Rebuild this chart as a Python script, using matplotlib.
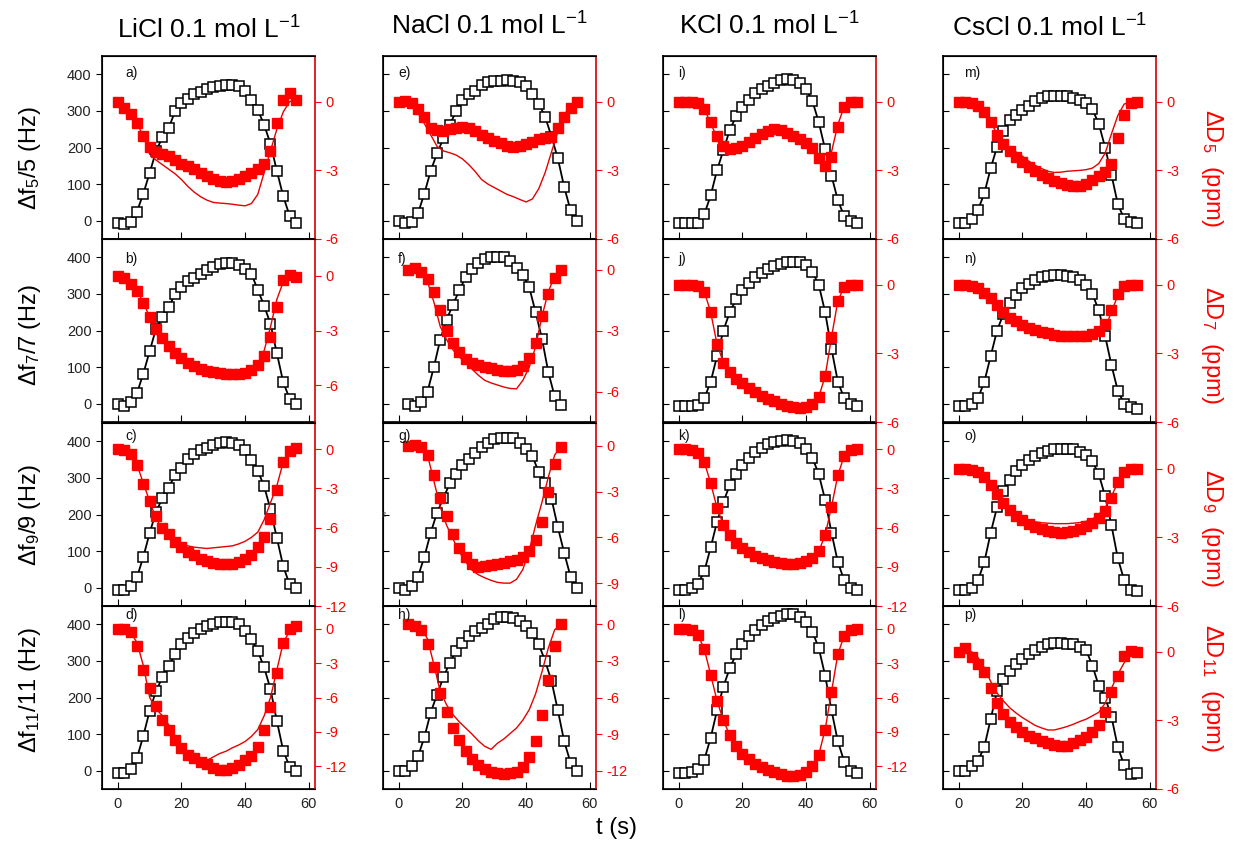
import matplotlib.pyplot as plt

plt.rcParams['font.family'] = ['Liberation Sans', 'DejaVu Sans']
plt.rcParams['mathtext.fontset'] = 'custom'
plt.rcParams['mathtext.rm'] = 'Liberation Sans'
plt.rcParams['mathtext.it'] = 'Liberation Sans'
plt.rcParams['axes.unicode_minus'] = False

# sampling times (s)
t_full = [0, 2, 4, 6, 8, 10, 12, 14, 16, 18, 20, 22, 24, 26, 28,
          30, 32, 34, 36, 38, 40, 42, 44, 46, 48, 50, 52, 54, 56]
t_short = [3, 5, 7, 9, 11, 13, 15, 17, 19, 21, 23, 25, 27,
           29, 31, 33, 35, 37, 39, 41, 43, 45, 47, 49, 51]

salts = ['LiCl', 'NaCl', 'KCl', 'CsCl']
overtones = [5, 7, 9, 11]

# LiCl -- frequency (Hz), dissipation points and fit (ppm)
df_a = [-6, -9, -3, 25, 74, 131, 190, 228, 253, 300, 322, 333, 345, 352, 359,
        365, 368, 370, 370, 368, 354, 331, 303, 262, 210, 136, 67, 14, -5]
dd_a = [0, -0.28, -0.52, -0.93, -1.48, -1.97, -2.2, -2.3, -2.38, -2.55, -2.7,
        -2.81, -2.96, -3.1, -3.25, -3.36, -3.46, -3.51, -3.46, -3.36, -3.25,
        -3.1, -2.96, -2.74, -2.16, -0.93, 0.09, 0.38, 0.06]
fit_a = [0, -0.28, -0.55, -0.95, -1.5, -2.3, -2.55, -2.75, -2.95, -3.15, -3.4,
         -3.7, -3.95, -4.15, -4.3, -4.4, -4.43, -4.45, -4.48, -4.52, -4.55,
         -4.45, -4.05, -3.1, -2.15, -1.2, -0.45, 0.0, 0.1]

df_b = [0, -5, 5, 29, 82, 144, 205, 236, 264, 300, 318, 335, 344, 355, 365,
        373, 382, 384, 384, 378, 368, 355, 311, 268, 218, 138, 59, 14, 0]
dd_b = [0, -0.15, -0.45, -0.84, -1.47, -2.27, -2.93, -3.42, -3.87, -4.24, -4.5,
        -4.78, -4.96, -5.1, -5.2, -5.29, -5.33, -5.36, -5.36, -5.36, -5.33,
        -5.15, -4.87, -4.38, -3.33, -1.69, -0.24, 0.04, -0.05]
fit_b = [0, -0.15, -0.45, -0.84, -1.47, -2.27, -2.93, -3.42, -3.87, -4.35,
         -4.65, -4.95, -5.15, -5.3, -5.42, -5.5, -5.52, -5.52, -5.5, -5.48,
         -5.42, -5.25, -4.9, -4.1, -2.8, -1.3, -0.35, 0, 0]

df_c = [-5, -5, 5, 29, 84, 150, 207, 245, 273, 309, 327, 353, 364, 375, 382,
        389, 395, 398, 395, 389, 375, 350, 320, 277, 214, 136, 59, 9, -2]
dd_c = [0, -0.08, -0.38, -1.18, -2.63, -4.0, -5.13, -6.0, -6.5, -7.13, -7.5,
        -7.88, -8.13, -8.38, -8.58, -8.68, -8.75, -8.75, -8.75, -8.63, -8.38,
        -8.08, -7.5, -6.75, -5.38, -3.13, -1.0, -0.13, 0.08]
fit_c = [0, -0.08, -0.38, -1.18, -2.6, -4.0, -5.3, -6.1, -6.6, -6.95, -7.2,
         -7.4, -7.5, -7.55, -7.6, -7.55, -7.5, -7.45, -7.4, -7.25, -7.05,
         -6.75, -6.35, -5.4, -4.1, -2.8, -1.0, -0.1, 0.05]

df_d = [-5, -5, 5, 35, 95, 164, 218, 255, 287, 318, 345, 362, 377, 386, 395,
        401, 405, 405, 405, 400, 382, 359, 327, 282, 223, 136, 55, 11, 0]
dd_d = [0, 0, -0.3, -1.48, -3.6, -5.16, -6.73, -8.0, -8.8, -9.69, -10.4,
        -11.0, -11.3, -11.6, -11.8, -12.2, -12.3, -12.3, -12.2, -11.9, -11.5,
        -11.1, -10.3, -8.8, -6.87, -3.9, -1.24, 0, 0.24]
fit_d = [0, 0, -0.3, -1.2, -3.2, -6.0, -7.0, -7.6, -8.4, -9.8, -10.5, -10.8,
         -11.0, -11.3, -11.5, -11.2, -10.9, -10.7, -10.4, -10.15, -9.85, -9.4,
         -8.8, -7.6, -6.0, -3.6, -1.2, -0.2, 0.1]

# NaCl
df_e = [0, -7, -3, 20, 74, 136, 184, 225, 262, 299, 330, 346, 355, 372, 380,
        383, 383, 385, 383, 378, 368, 345, 320, 284, 230, 170, 92, 28, 0]
dd_e = [0, 0.04, -0.07, -0.33, -0.65, -1.16, -1.23, -1.26, -1.2, -1.16, -1.12,
        -1.16, -1.26, -1.45, -1.6, -1.7, -1.81, -1.93, -1.99, -1.93, -1.84,
        -1.74, -1.64, -1.6, -1.55, -1.16, -0.65, -0.29, 0]
fit_e = [0, -0.02, -0.07, -0.5, -0.95, -1.45, -1.95, -2.15, -2.23, -2.33,
         -2.5, -2.75, -3.05, -3.4, -3.6, -3.75, -3.9, -4.05, -4.15, -4.27,
         -4.38, -4.25, -3.8, -3.1, -2.2, -1.3, -0.6, -0.1, 0]

df_f = [-2, -5, 5, 33, 100, 175, 230, 270, 310, 345, 367, 385, 395, 401, 402,
        401, 389, 372, 353, 318, 250, 178, 86, 20, -3]
dd_f = [0, 0.05, -0.1, -0.45, -1.1, -2.0, -3.0, -3.6, -4.05, -4.4, -4.62,
        -4.72, -4.78, -4.85, -4.92, -4.98, -5.0, -4.95, -4.75, -4.35, -3.6,
        -2.3, -1.2, -0.4, 0]
fit_f = [0, -0.02, -0.1, -0.6, -1.6, -2.8, -3.45, -3.95, -4.3, -4.6, -4.9,
         -5.2, -5.45, -5.58, -5.68, -5.78, -5.85, -5.87, -5.45, -4.8, -3.8,
         -2.3, -1.1, -0.3, 0]

df_g = [0, -5, 5, 30, 84, 150, 205, 245, 285, 312, 335, 352, 368, 385, 396,
        406, 410, 410, 408, 396, 380, 360, 315, 285, 243, 165, 95, 30, 0]
dd_g = [0, 0.05, -0.1, -0.6, -1.9, -3.4, -4.6, -5.8, -6.7, -7.3, -7.75, -7.93,
        -7.9, -7.8, -7.72, -7.65, -7.58, -7.48, -7.3, -6.9, -6.2, -5.0, -3.0,
        -1.2, -0.1]
fit_g = [0, 0, -0.1, -0.6, -2.3, -4.0, -5.2, -6.1, -6.95, -7.6, -8.15, -8.45,
         -8.65, -8.82, -8.95, -9.0, -9.0, -8.75, -8.1, -6.85, -5.2, -3.7,
         -2.05, -0.6, -0.05]

df_h = [0, -2, 12, 39, 91, 159, 208, 255, 295, 328, 350, 368, 382, 390, 402,
        414, 420, 420, 416, 408, 395, 377, 345, 300, 245, 165, 80, 22, 0]
dd_h = [0, -0.1, -0.5, -1.6, -3.5, -5.6, -7.2, -8.5, -9.5, -10.4, -11.0,
        -11.5, -11.9, -12.1, -12.2, -12.3, -12.2, -12.1, -11.7, -10.9, -9.6,
        -7.4, -4.6, -1.8, 0]
fit_h = [0, -0.1, -0.3, -1.2, -3.3, -5.5, -6.6, -7.4, -8.0, -8.5, -9.0,
         -9.55, -10.0, -10.25, -9.75, -9.4, -8.95, -8.5, -7.85, -7.0, -5.7,
         -3.9, -1.95, -0.45, 0]

# KCl
df_i = [-5, -7, -7, -5, 18, 69, 138, 193, 248, 285, 312, 331, 349, 359, 368,
        377, 385, 387, 385, 377, 359, 327, 269, 195, 123, 56, 12, 0, -5]
dd_i = [0, 0, 0, -0.07, -0.3, -0.9, -1.5, -1.92, -2.07, -2.03, -1.93, -1.75,
        -1.6, -1.42, -1.28, -1.2, -1.25, -1.37, -1.5, -1.65, -1.8, -2.0, -2.45,
        -2.8, -2.4, -1.1, -0.22, 0, 0]
fit_i = [0, 0, 0, -0.05, -0.3, -0.95, -1.55, -1.95, -2.05, -2.0, -1.9, -1.75,
         -1.6, -1.45, -1.3, -1.22, -1.25, -1.35, -1.5, -1.65, -1.82, -2.05,
         -2.4, -2.7, -2.2, -1.0, -0.2, 0, 0]

df_j = [-5, -5, -5, -3, 15, 60, 130, 200, 250, 285, 310, 330, 345, 358, 368,
        376, 382, 386, 388, 386, 378, 360, 325, 250, 150, 60, 15, 0, -5]
dd_j = [0, 0, 0, -0.05, -0.3, -1.2, -2.6, -3.4, -3.8, -4.1, -4.3, -4.5, -4.7,
        -4.85, -5.0, -5.1, -5.2, -5.3, -5.35, -5.4, -5.35, -5.2, -4.9, -4.0,
        -2.3, -0.7, -0.1, 0, 0]
fit_j = [0, 0, 0, -0.05, -0.3, -1.2, -2.6, -3.4, -3.8, -4.1, -4.3, -4.5, -4.7,
         -4.85, -5.0, -5.1, -5.2, -5.3, -5.35, -5.4, -5.35, -5.2, -4.9, -4.0,
         -2.3, -0.7, -0.1, 0, 0]

df_k = [-5, -5, 0, 10, 45, 110, 180, 235, 280, 310, 335, 355, 370, 382, 392,
        398, 402, 404, 402, 395, 380, 355, 310, 240, 150, 70, 20, 0, -5]
dd_k = [0, 0, -0.1, -0.3, -1.0, -2.6, -4.5, -5.8, -6.6, -7.2, -7.6, -7.9,
        -8.15, -8.35, -8.5, -8.6, -8.7, -8.75, -8.75, -8.7, -8.55, -8.3, -7.8,
        -6.6, -4.4, -2.0, -0.5, -0.1, 0]
fit_k = [0, 0, -0.1, -0.3, -1.0, -2.6, -4.5, -5.8, -6.6, -7.2, -7.6, -7.9,
         -8.15, -8.35, -8.5, -8.6, -8.7, -8.75, -8.75, -8.7, -8.55, -8.3, -7.8,
         -6.6, -4.4, -2.0, -0.5, -0.1, 0]

df_l = [-5, -5, -3, 5, 30, 90, 165, 230, 280, 318, 345, 368, 385, 398, 410,
        418, 424, 428, 428, 420, 405, 380, 335, 260, 165, 80, 25, 0, -5]
dd_l = [0, 0, -0.1, -0.5, -1.8, -4.0, -6.3, -8.0, -9.3, -10.2, -10.9, -11.4,
        -11.8, -12.1, -12.35, -12.55, -12.7, -12.85, -12.9, -12.8, -12.5,
        -12.0, -11.0, -8.8, -5.5, -2.2, -0.6, -0.1, 0]
fit_l = [0, 0, -0.1, -0.5, -1.8, -4.0, -6.3, -8.0, -9.3, -10.2, -10.9, -11.4,
         -11.8, -12.1, -12.35, -12.55, -12.7, -12.85, -12.9, -12.8, -12.5,
         -12.0, -11.0, -8.8, -5.5, -2.2, -0.6, -0.1, 0]

# CsCl
df_m = [-5, -5, 5, 29, 75, 143, 202, 246, 276, 290, 303, 313, 326, 336, 340,
        340, 340, 340, 336, 331, 322, 304, 265, 200, 125, 45, 5, -3, -5]
dd_m = [0, 0, -0.04, -0.19, -0.45, -0.9, -1.45, -1.85, -2.17, -2.42, -2.65,
        -2.86, -3.04, -3.19, -3.33, -3.48, -3.55, -3.62, -3.7, -3.7, -3.6,
        -3.42, -3.25, -3.05, -2.7, -1.6, -0.6, -0.05, 0]
fit_m = [0, 0, -0.04, -0.2, -0.45, -0.9, -1.4, -1.75, -2.0, -2.2, -2.38, -2.6,
         -2.78, -2.92, -3.04, -3.09, -3.08, -3.04, -3.02, -3.0, -2.97, -2.9,
         -2.7, -2.25, -1.4, -0.6, -0.1, 0, 0]

df_n = [-5, -5, 0, 15, 60, 130, 200, 245, 275, 298, 315, 328, 338, 345, 350,
        352, 352, 350, 346, 338, 325, 300, 255, 185, 105, 35, 0, -10, -15]
dd_n = [0, 0, -0.05, -0.15, -0.35, -0.6, -0.9, -1.2, -1.45, -1.6, -1.75,
        -1.88, -1.98, -2.05, -2.12, -2.18, -2.22, -2.25, -2.25, -2.25, -2.22,
        -2.15, -2.0, -1.7, -1.1, -0.4, -0.05, 0, 0]
fit_n = [0, 0, -0.05, -0.15, -0.35, -0.6, -0.9, -1.2, -1.45, -1.65, -1.82,
         -1.98, -2.1, -2.2, -2.27, -2.33, -2.37, -2.4, -2.42, -2.42, -2.4,
         -2.35, -2.2, -1.85, -1.2, -0.45, -0.05, 0, 0]

df_o = [-5, -5, 0, 20, 70, 150, 220, 265, 295, 318, 335, 350, 360, 368, 374,
        378, 380, 380, 378, 372, 362, 345, 310, 250, 170, 80, 20, -5, -10]
dd_o = [0, 0, -0.05, -0.15, -0.35, -0.7, -1.1, -1.5, -1.8, -2.05, -2.25,
        -2.4, -2.55, -2.65, -2.72, -2.78, -2.8, -2.78, -2.72, -2.62, -2.5,
        -2.35, -2.15, -1.85, -1.3, -0.6, -0.15, 0, 0]
fit_o = [0, 0, -0.05, -0.15, -0.35, -0.7, -1.1, -1.5, -1.8, -2.0, -2.15,
         -2.25, -2.32, -2.36, -2.38, -2.4, -2.4, -2.4, -2.38, -2.35, -2.3,
         -2.2, -2.0, -1.7, -1.2, -0.6, -0.15, 0, 0]

df_p = [0, 0, 14, 27, 65, 141, 218, 250, 272, 291, 305, 318, 329, 338, 345,
        348, 348, 347, 345, 337, 330, 287, 232, 200, 147, 64, 15, -9, -5]
dd_p = [0, 0.15, -0.22, -0.55, -0.9, -1.6, -2.25, -2.72, -3.05, -3.28, -3.5,
        -3.7, -3.78, -3.9, -4.0, -4.08, -4.12, -4.1, -4.0, -3.86, -3.72, -3.5,
        -3.2, -2.65, -1.75, -1.05, -0.2, 0.02, 0]
fit_p = [0, 0.02, 0, -0.25, -0.7, -1.3, -1.8, -2.15, -2.45, -2.68, -2.88,
         -3.05, -3.22, -3.33, -3.42, -3.42, -3.35, -3.27, -3.17, -3.05, -2.95,
         -2.8, -2.65, -2.25, -1.6, -0.98, -0.48, -0.07, 0]

# (t for frequency, frequency, t for dissipation, points, fit) per panel
panels = {
    'a': (t_full, df_a, t_full, dd_a, fit_a),
    'b': (t_full, df_b, t_full, dd_b, fit_b),
    'c': (t_full, df_c, t_full, dd_c, fit_c),
    'd': (t_full, df_d, t_full, dd_d, fit_d),
    'e': (t_full, df_e, t_full, dd_e, fit_e),
    'f': (t_short, df_f, t_short, dd_f, fit_f),
    'g': (t_full, df_g, t_short, dd_g, fit_g),
    'h': (t_full, df_h, t_short, dd_h, fit_h),
    'i': (t_full, df_i, t_full, dd_i, fit_i),
    'j': (t_full, df_j, t_full, dd_j, fit_j),
    'k': (t_full, df_k, t_full, dd_k, fit_k),
    'l': (t_full, df_l, t_full, dd_l, fit_l),
    'm': (t_full, df_m, t_full, dd_m, fit_m),
    'n': (t_full, df_n, t_full, dd_n, fit_n),
    'o': (t_full, df_o, t_full, dd_o, fit_o),
    'p': (t_full, df_p, t_full, dd_p, fit_p),
}

# right-axis range for each panel
dlims = {
    'a': (-6, 2), 'b': (-8, 2), 'c': (-12, 2), 'd': (-14, 2),
    'e': (-6, 2), 'f': (-7.5, 1.5), 'g': (-10.5, 1.5), 'h': (-13.5, 1.5),
    'i': (-6, 2), 'j': (-6, 2), 'k': (-12, 2), 'l': (-14, 2),
    'm': (-6, 2), 'n': (-6, 2), 'o': (-6, 2), 'p': (-6, 2),
}

W, H = 1234, 856
col_left = [102, 383, 663, 943]
col_w = 213
row_top = [56, 239, 423, 606]
row_h = 183

# panel letter position (axes fraction) per row, per column
letter_y = [0.905, 0.89, 0.93, 0.95]
letter_x = [0.11, 0.07, 0.07, 0.1]

RED = '#ff0000'
LINE_RED = '#e60000'

fig = plt.figure(figsize=(W / 100, H / 100), dpi=100)

letters = 'abcdefghijklmnop'
for c in range(4):
    for r in range(4):
        key = letters[c * 4 + r]
        tb, fb, tr, dr, fr = panels[key]
        rect = [col_left[c] / W, 1 - (row_top[r] + row_h) / H, col_w / W, row_h / H]
        ax = fig.add_axes(rect)
        ax2 = ax.twinx()

        ax.plot(tb, fb, color='k', lw=1.3, zorder=2)
        ax.plot(tb, fb, ls='none', marker='s', ms=6.5, mfc='white', mec='k',
                mew=1.1, zorder=3)
        ax2.plot(tr, fr, color=LINE_RED, lw=1.0, zorder=2)
        ax2.plot(tr, dr, ls='none', marker='s', ms=7, color=RED, zorder=3)

        ax.set_xlim(-5, 62)
        ax.set_ylim(-50, 450)
        ax.set_xticks([0, 20, 40, 60])
        ax.set_yticks([0, 100, 200, 300, 400])
        ax.tick_params(axis='x', direction='in', length=5, labelsize=10.5,
                       labelcolor='#222222', labelbottom=(r == 3), pad=6)
        ax.tick_params(axis='y', direction='out' if c == 0 else 'in', length=4,
                       labelsize=10.5, labelcolor='#222222', labelleft=(c == 0))

        lo, hi = dlims[key]
        ax2.set_ylim(lo, hi)
        ax2.set_yticks([v for v in [-12, -9, -6, -3, 0] if lo <= v <= hi])
        ax2.tick_params(axis='y', colors=RED, direction='out', length=4,
                        labelsize=10.5)
        ax2.spines['right'].set_color('#d40000')
        ax2.spines['right'].set_linewidth(1.2)
        for s in ['left', 'top', 'bottom']:
            ax.spines[s].set_linewidth(1.2)
        ax.spines['right'].set_visible(False)

        ax2.text(letter_x[c], letter_y[r], key + ')', transform=ax.transAxes,
                 fontsize=10, ha='left', va='center', color='#111111', zorder=5)

# column titles
title_y = [30, 26, 26, 28]
for c, salt in enumerate(salts):
    xc = (col_left[c] + col_w / 2) / W
    fig.text(xc, 1 - title_y[c] / H, salt + r' 0.1 mol L$^{-1}$', fontsize=19,
             ha='center', va='center')

# row labels
left_y = [158, 335, 515, 690]
right_y = [168, 345, 528, 688]
for r, n in enumerate(overtones):
    fig.text(30 / W, 1 - left_y[r] / H, r'$\Delta$f$_{%d}$/%d (Hz)' % (n, n),
             rotation=90, fontsize=17, ha='center', va='center')
    fig.text(1212 / W, 1 - right_y[r] / H, r'$\Delta$D$_{%d}$  (ppm)' % n,
             rotation=-90, fontsize=17, ha='center', va='center', color=RED)

fig.text(617 / W, 1 - 828 / H, 't (s)', fontsize=17, ha='center', va='center')
fig.text(385 / W, 1 - 513 / H, 'F9', fontsize=4, rotation=90, ha='center',
         va='center', color='#444444')

fig.savefig('out.png', dpi=100)
